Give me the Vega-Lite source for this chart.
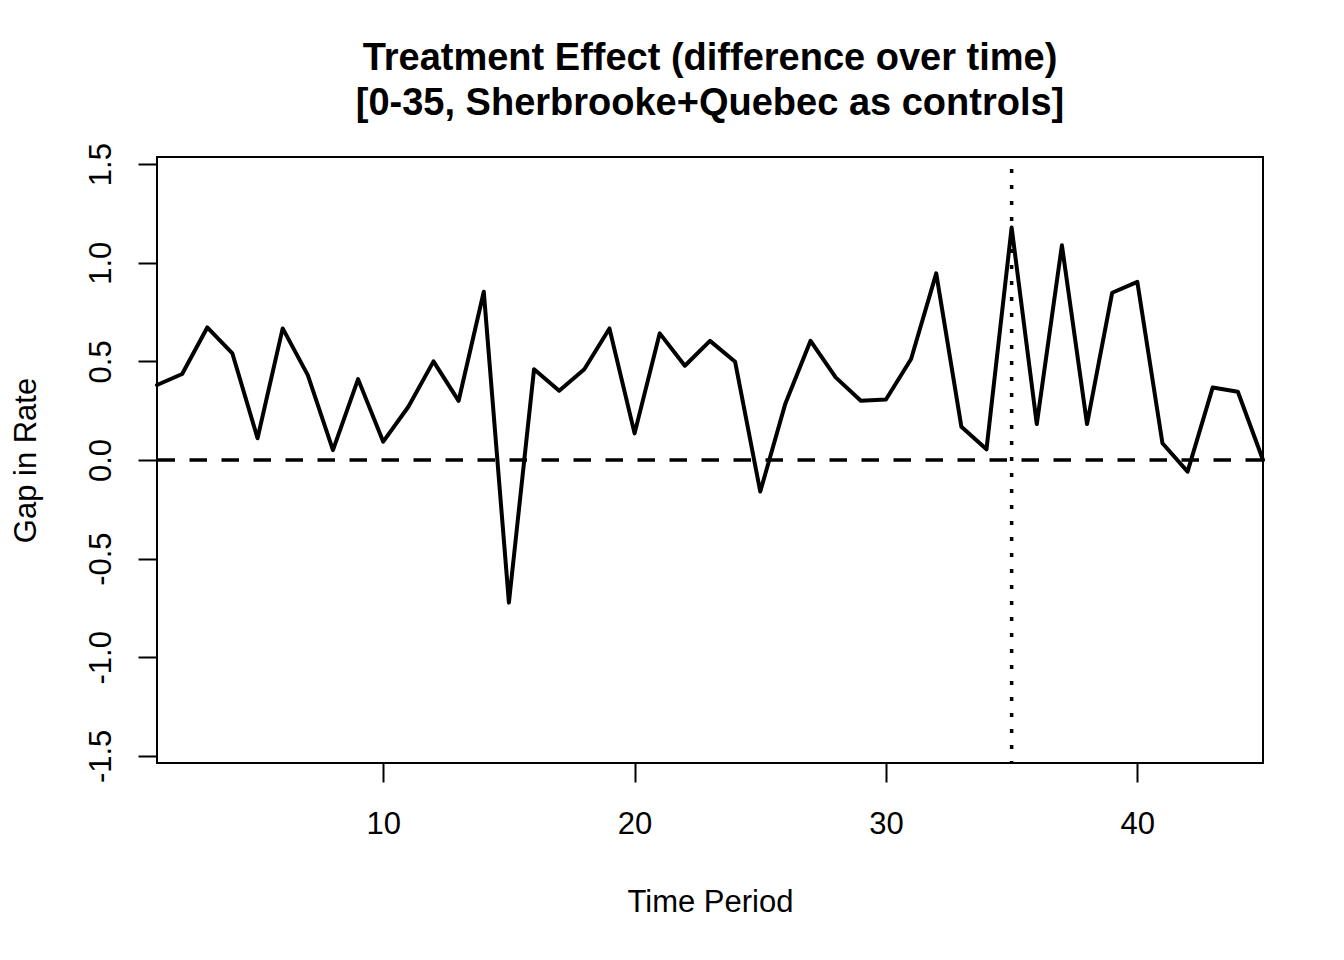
{
  "$schema": "https://vega.github.io/schema/vega-lite/v6.json",
  "width": 1106,
  "height": 606,
  "autosize": {"type": "none"},
  "padding": {"left": 157, "top": 157, "right": 81, "bottom": 197},
  "background": "white",
  "title": {
    "text": ["Treatment Effect (difference over time)", "[0-35, Sherbrooke+Quebec as controls]"],
    "font": "Liberation Sans",
    "fontSize": 38,
    "fontWeight": "bold",
    "color": "black",
    "anchor": "middle",
    "frame": "group",
    "lineHeight": 45,
    "baseline": "bottom",
    "offset": 34,
    "dy": 52
  },
  "config": {
    "view": {"stroke": "black", "strokeWidth": 2},
    "axis": {
      "labelFont": "Liberation Sans",
      "titleFont": "Liberation Sans",
      "labelFontSize": 31,
      "titleFontSize": 31,
      "titleFontWeight": "normal",
      "labelColor": "black",
      "titleColor": "black",
      "tickColor": "black",
      "tickWidth": 2,
      "tickSize": 19,
      "domain": false,
      "grid": false
    }
  },
  "layer": [
    {
      "data": {
        "values": [
          {"t": 1, "gap": 0.38}, {"t": 2, "gap": 0.436}, {"t": 3, "gap": 0.672},
          {"t": 4, "gap": 0.54}, {"t": 5, "gap": 0.11}, {"t": 6, "gap": 0.667},
          {"t": 7, "gap": 0.43}, {"t": 8, "gap": 0.05}, {"t": 9, "gap": 0.41},
          {"t": 10, "gap": 0.093}, {"t": 11, "gap": 0.27}, {"t": 12, "gap": 0.5},
          {"t": 13, "gap": 0.3}, {"t": 14, "gap": 0.853}, {"t": 15, "gap": -0.723},
          {"t": 16, "gap": 0.46}, {"t": 17, "gap": 0.351}, {"t": 18, "gap": 0.46},
          {"t": 19, "gap": 0.667}, {"t": 20, "gap": 0.135}, {"t": 21, "gap": 0.642},
          {"t": 22, "gap": 0.478}, {"t": 23, "gap": 0.604}, {"t": 24, "gap": 0.498},
          {"t": 25, "gap": -0.16}, {"t": 26, "gap": 0.287}, {"t": 27, "gap": 0.604},
          {"t": 28, "gap": 0.419}, {"t": 29, "gap": 0.3}, {"t": 30, "gap": 0.307},
          {"t": 31, "gap": 0.512}, {"t": 32, "gap": 0.946}, {"t": 33, "gap": 0.169},
          {"t": 34, "gap": 0.054}, {"t": 35, "gap": 1.179}, {"t": 36, "gap": 0.182},
          {"t": 37, "gap": 1.089}, {"t": 38, "gap": 0.182}, {"t": 39, "gap": 0.848},
          {"t": 40, "gap": 0.903}, {"t": 41, "gap": 0.085}, {"t": 42, "gap": -0.059},
          {"t": 43, "gap": 0.368}, {"t": 44, "gap": 0.346}, {"t": 45, "gap": 0.0}
        ]
      },
      "mark": {"type": "line", "color": "black", "strokeWidth": 4, "strokeJoin": "round", "strokeCap": "round"},
      "encoding": {
        "x": {
          "field": "t",
          "type": "quantitative",
          "scale": {"domain": [1, 45], "nice": false, "zero": false},
          "axis": {
            "title": "Time Period",
            "values": [10, 20, 30, 40],
            "labelBaseline": "alphabetic",
            "labelPadding": 51,
            "titleBaseline": "alphabetic",
            "titleX": 553,
            "titleY": 148,
            "titleAlign": "center"
          }
        },
        "y": {
          "field": "gap",
          "type": "quantitative",
          "scale": {"domain": [-1.536, 1.536], "nice": false, "zero": false},
          "axis": {
            "title": "Gap in Rate",
            "values": [-1.5, -1, -0.5, 0, 0.5, 1, 1.5],
            "labelExpr": "datum.value < 0 ? '-' + format(-datum.value, '.1f') : format(datum.value, '.1f')",
            "labelAngle": 270,
            "labelAlign": "center",
            "labelBaseline": "alphabetic",
            "labelPadding": 28,
            "titleAngle": 270,
            "titleAlign": "center",
            "titleBaseline": "alphabetic",
            "titleX": -122,
            "titleY": 303
          }
        }
      }
    },
    {
      "data": {"values": [{"level": 0}]},
      "mark": {"type": "rule", "color": "black", "strokeWidth": 3.5, "strokeDash": [17.5, 14.5], "strokeCap": "butt"},
      "encoding": {
        "y": {"field": "level", "type": "quantitative"}
      }
    },
    {
      "data": {"values": [{"period": 35}]},
      "mark": {"type": "rule", "color": "black", "strokeWidth": 3.5, "strokeDash": [4, 12], "strokeDashOffset": 4, "strokeCap": "butt"},
      "encoding": {
        "x": {"field": "period", "type": "quantitative"}
      }
    }
  ]
}
